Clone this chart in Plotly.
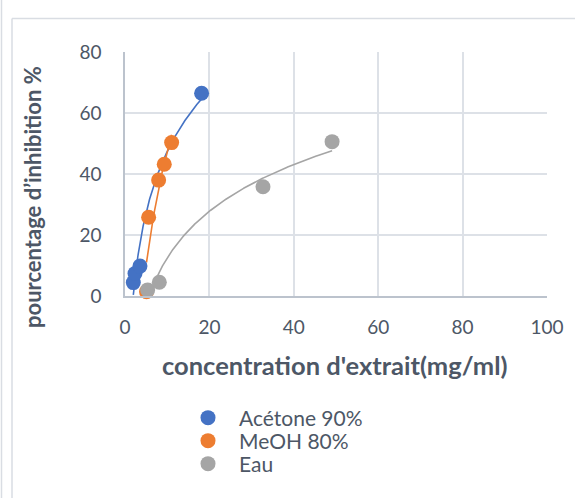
import numpy as np
import plotly.graph_objects as go

# Concentration (mg/ml) and inhibition (%) for each extract
acetone_x = [1.97, 2.37, 3.55, 18.15]
acetone_y = [4.4, 7.4, 9.8, 66.5]
meoh_x = [5.1, 5.6, 7.97, 9.3, 11.05]
meoh_y = [1.4, 25.8, 38.0, 43.2, 50.3]
eau_x = [5.37, 8.13, 32.7, 49.07]
eau_y = [2.0, 4.5, 35.8, 50.6]

series_names = ["Acétone 90%", "MeOH 80%", "Eau"]
series_colors = ["#4472C4", "#ED7D31", "#A5A5A5"]
x_ticks = [0, 20, 40, 60, 80, 100]
y_ticks = [0, 20, 40, 60, 80]

FONT = "Lato"
TEXT = "#4D5766"

fig = go.Figure()

series = [(acetone_x, acetone_y), (meoh_x, meoh_y), (eau_x, eau_y)]

# Logarithmic trendlines (y = a ln x + b), drawn over each series' x span
for (xs, ys), col in zip(series, series_colors):
    a, b = np.polyfit(np.log(xs), ys, 1)
    xx = np.linspace(min(xs), max(xs), 200)
    fig.add_trace(go.Scatter(x=xx, y=a * np.log(xx) + b, mode="lines",
                             line=dict(color=col, width=1.6),
                             showlegend=False, hoverinfo="skip"))

# One legend per series so each entry sits on its own row
legend_ids = ["legend", "legend2", "legend3"]
for (xs, ys), name, col, lg in zip(series, series_names, series_colors, legend_ids):
    fig.add_trace(go.Scatter(x=xs, y=ys, mode="markers", name=name,
                             marker=dict(color=col, size=15, line=dict(width=0)),
                             cliponaxis=False, legend=lg))

# Plot area occupies px 125..547 horizontally, 52..296 vertically
L, R, T, B = 125, 547, 52, 296
W, H = 575, 498
def px(x):
    return (x - L) / (R - L)
def py(y):
    return (B - y) / (B - T)

frame = "#D9DDE3"
shapes = [
    dict(type="line", xref="paper", yref="paper", x0=px(12), x1=px(600),
         y0=py(18.5), y1=py(18.5), line=dict(color=frame, width=1.5)),
    dict(type="line", xref="paper", yref="paper", x0=px(12), x1=px(12),
         y0=py(18.5), y1=py(520), line=dict(color=frame, width=1.5)),
    dict(type="line", xref="paper", yref="paper", x0=px(1.5), x1=px(1.5),
         y0=py(-10), y1=py(520), line=dict(color=frame, width=1.5)),
]

annotations = [
    dict(text="<b>pourcentage d’inhibition %</b>", xref="paper", yref="paper",
         x=px(33), y=py(197), xanchor="center", yanchor="middle",
         textangle=-90, showarrow=False,
         font=dict(family=FONT, size=22, color=TEXT)),
    dict(text="<b>concentration d'extrait(mg/ml)</b>", xref="paper", yref="paper",
         x=px(335), y=py(365), xanchor="center", yanchor="middle",
         showarrow=False,
         font=dict(family=FONT, size=25.5, color=TEXT)),
]

def legend_at(y_px):
    return dict(xref="container", yref="container",
                x=177 / W, y=1 - y_px / H, xanchor="left", yanchor="middle",
                font=dict(family=FONT, size=21, color=TEXT),
                bgcolor="rgba(0,0,0,0)", itemsizing="trace",
                itemwidth=52)

fig.update_layout(
    width=W, height=H,
    margin=dict(l=L, r=W - R, t=T, b=H - B, autoexpand=False),
    paper_bgcolor="white", plot_bgcolor="white",
    font=dict(family=FONT, size=19, color=TEXT),
    shapes=shapes, annotations=annotations,
    legend=legend_at(418), legend2=legend_at(441), legend3=legend_at(464),
)
fig.update_xaxes(range=[0, 100], tickvals=x_ticks, showgrid=True,
                 gridcolor="#DDE1E7", gridwidth=1.5, zeroline=False,
                 showline=True, linecolor="#BCC3CD", linewidth=1.5,
                 ticks="", ticklabelstandoff=13,
                 tickfont=dict(family=FONT, size=19, color=TEXT))
fig.update_yaxes(range=[0, 80], tickvals=y_ticks, showgrid=True,
                 gridcolor="#DDE1E7", gridwidth=1.5, zeroline=False,
                 showline=True, linecolor="#BCC3CD", linewidth=1.5,
                 ticks="", ticklabelstandoff=18,
                 tickfont=dict(family=FONT, size=19, color=TEXT))

fig.write_html("out.html")
